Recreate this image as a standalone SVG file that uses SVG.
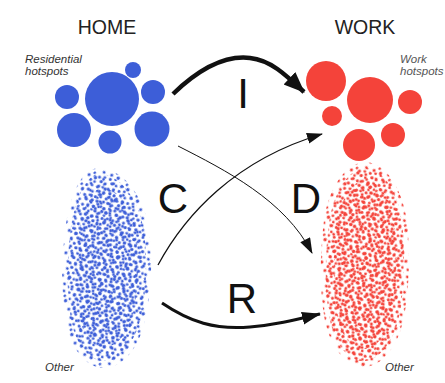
<svg xmlns="http://www.w3.org/2000/svg" width="445" height="383" viewBox="0 0 445 383">
  <style>
    .title { font-family: "Liberation Sans", Arial, sans-serif; font-size: 19.5px; fill: #222; text-anchor: middle; }
    .note { font-family: "Liberation Sans", Arial, sans-serif; font-size: 11.5px; font-style: italic; fill: #333; }
    .note.grey { fill: #555; }
    .flow { font-family: "Liberation Sans", Arial, sans-serif; font-size: 42px; fill: #111; text-anchor: middle; }
    .blue { fill: #3d5ed8; }
    .red { fill: #f4433a; }
    .link { fill: none; stroke: #111; }
  </style>
  <defs>
    <!-- arrowheads -->
    <marker id="headBig" markerUnits="userSpaceOnUse" markerWidth="22" markerHeight="18" refX="20" refY="8.5" orient="auto">
      <path d="M0,0 L21,8.5 L0,17 Z" fill="#111"/>
    </marker>
    <marker id="headMid" markerUnits="userSpaceOnUse" markerWidth="20" markerHeight="14" refX="18" refY="6.5" orient="auto">
      <path d="M0,0 L19,6.5 L0,13 Z" fill="#111"/>
    </marker>
    <marker id="headSmall" markerUnits="userSpaceOnUse" markerWidth="17" markerHeight="12" refX="15" refY="5.5" orient="auto">
      <path d="M0,0 L16,5.5 L0,11 Z" fill="#111"/>
    </marker>

    <!-- dot fields for the scattered "other" locations -->
    <pattern id="dotsA" width="11" height="10" patternUnits="userSpaceOnUse" patternTransform="rotate(12)">
      <circle cx="2.2" cy="2.5" r="1.5" fill="#fff"/>
      <circle cx="7.5" cy="1.8" r="1.4" fill="#fff"/>
      <circle cx="4.8" cy="6.6" r="1.7" fill="#fff"/>
      <circle cx="9.3" cy="7.9" r="1.3" fill="#fff"/>
    </pattern>
    <pattern id="dotsB" width="14" height="13" patternUnits="userSpaceOnUse" patternTransform="rotate(27)">
      <circle cx="2" cy="3" r="1.6" fill="#fff"/>
      <circle cx="8.5" cy="2" r="1.3" fill="#fff"/>
      <circle cx="12" cy="7.5" r="1.6" fill="#fff"/>
      <circle cx="5" cy="9" r="1.4" fill="#fff"/>
      <circle cx="9" cy="11.3" r="1.5" fill="#fff"/>
    </pattern>
    <pattern id="dotsC" width="17" height="15" patternUnits="userSpaceOnUse" patternTransform="rotate(-40)">
      <circle cx="3" cy="4" r="1.4" fill="#fff"/>
      <circle cx="10" cy="2.5" r="1.7" fill="#fff"/>
      <circle cx="15" cy="9" r="1.4" fill="#fff"/>
      <circle cx="7" cy="11" r="1.6" fill="#fff"/>
      <circle cx="12.5" cy="13.3" r="1.3" fill="#fff"/>
    </pattern>
    <mask id="fringe">
      <rect x="0" y="0" width="445" height="383" fill="url(#dotsC)"/>
    </mask>
    <mask id="sparse">
      <rect x="0" y="0" width="445" height="383" fill="url(#dotsA)"/>
    </mask>
    <mask id="dense">
      <rect x="0" y="0" width="445" height="383" fill="url(#dotsB)"/>
    </mask>
  </defs>

  <rect width="445" height="383" fill="#fff"/>

  <!-- column titles -->
  <text class="title" x="107" y="34">HOME</text>
  <text class="title" x="365" y="34">WORK</text>

  <!-- home hotspots -->
  <g id="home-hotspots">
    <text class="note" x="25" y="63">Residential</text>
    <text class="note" x="25" y="75">hotspots</text>
    <circle class="blue" cx="112" cy="99" r="27"/>
    <circle class="blue" cx="133" cy="70" r="8"/>
    <circle class="blue" cx="153" cy="92" r="12"/>
    <circle class="blue" cx="67" cy="97" r="12"/>
    <circle class="blue" cx="74" cy="130" r="17"/>
    <circle class="blue" cx="110" cy="142" r="11.5"/>
    <circle class="blue" cx="152" cy="129" r="17.5"/>
  </g>

  <!-- work hotspots -->
  <g id="work-hotspots">
    <text class="note grey" x="400" y="63">Work</text>
    <text class="note grey" x="400" y="75">hotspots</text>
    <circle class="red" cx="326" cy="81" r="20"/>
    <circle class="red" cx="370" cy="100" r="23"/>
    <circle class="red" cx="410" cy="102" r="12"/>
    <circle class="red" cx="332" cy="116" r="10"/>
    <circle class="red" cx="359" cy="145" r="16"/>
    <circle class="red" cx="393" cy="135" r="12"/>
  </g>

  <!-- other home locations: a ragged fringe, a body and a denser core -->
  <g id="home-other">
    <path class="blue" mask="url(#fringe)" d="M99,168 C121,168 142,193 148,224 C154,260 151,302 143,328 C135,354 119,369 102,368 C86,367 70,348 66,321 C60,290 62,254 66,224 C71,193 82,168 99,168 Z"/>
    <path class="blue" mask="url(#sparse)" d="M100,174 C118,174 137,196 143,226 C149,260 146,300 139,324 C131,349 118,362 103,361 C89,360 75,344 71,319 C66,290 67,256 71,226 C76,197 86,174 100,174 Z"/>
    <path class="blue" mask="url(#dense)" d="M103,188 C118,189 132,207 136,232 C140,261 138,295 132,317 C125,338 115,347 104,347 C93,347 83,335 79,316 C74,292 75,260 79,233 C83,207 91,188 103,188 Z"/>
    <text class="note" x="45" y="371">Other</text>
  </g>

  <!-- other work locations -->
  <g id="work-other">
    <path class="red" mask="url(#fringe)" d="M366,162 C386,163 402,188 407,221 C411,258 409,302 401,329 C393,354 377,368 362,367 C346,366 331,348 325,321 C319,290 320,251 324,220 C329,187 346,162 366,162 Z"/>
    <path class="red" mask="url(#sparse)" d="M366,168 C383,169 398,191 402,222 C406,258 404,300 397,325 C389,349 375,362 362,361 C348,360 335,344 330,320 C324,290 325,253 329,223 C334,191 349,168 366,168 Z"/>
    <path class="red" mask="url(#dense)" d="M366,180 C380,181 392,200 395,228 C398,260 396,298 390,320 C383,342 372,350 362,349 C351,348 341,335 337,316 C333,290 333,256 336,228 C340,200 352,180 366,180 Z"/>
    <text class="note" x="385" y="371">Other</text>
  </g>

  <!-- flows between home and work -->
  <g id="connectors">
    <path class="link" id="flow-I" d="M173,94 C200,68 225,55 250,58 C270,60 285,74 304,92" stroke-width="4.5" marker-end="url(#headBig)"/>
    <path class="link" id="flow-C" d="M158,265 C185,215 235,160 322,134" stroke-width="1.3" marker-end="url(#headSmall)"/>
    <path class="link" id="flow-D" d="M178,146 C225,170 285,200 312,253" stroke-width="1" stroke="#444" marker-end="url(#headSmall)"/>
    <path class="link" id="flow-R" d="M162,303 C190,322 215,330 250,327 C275,325 295,320 320,314" stroke-width="3" marker-end="url(#headMid)"/>
    <text class="flow" x="243" y="108">I</text>
    <text class="flow" x="173" y="213">C</text>
    <text class="flow" x="306" y="213">D</text>
    <text class="flow" x="242" y="313">R</text>
  </g>
</svg>
